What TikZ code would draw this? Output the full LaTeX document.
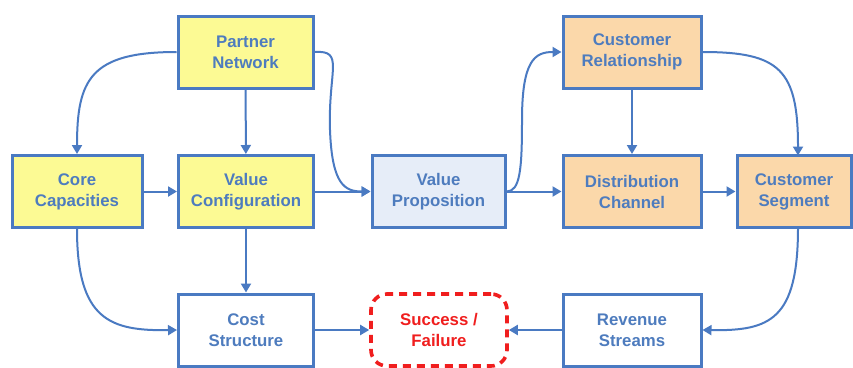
\documentclass[tikz,border=0pt]{standalone}
\usepackage{fontspec}
\setmainfont{Liberation Sans}
\usepackage{tikz}
\usetikzlibrary{arrows.meta,positioning}
\definecolor{edge}{HTML}{4A7AC2}
\definecolor{ink}{HTML}{4E7CBE}
\definecolor{softyellow}{HTML}{FCFA94}
\definecolor{softorange}{HTML}{FBD8AA}
\definecolor{softblue}{HTML}{E6EDF8}
\definecolor{alert}{HTML}{F01E1E}
\tikzset{
  box/.style={
    draw=edge, line width=3pt, fill=white, text=ink,
    font=\fontsize{16.8}{21}\selectfont\bfseries,
    minimum width=135pt, minimum height=72pt, align=center
  },
  partner/.style={box, fill=softyellow},
  offer/.style={box, fill=softblue},
  customer/.style={box, fill=softorange},
  result/.style={box, draw=alert, text=alert, dash pattern=on 8pt off 6pt,
    line width=3.6pt, rounded corners=16pt},
  link/.style={-{Triangle[length=9pt,width=10pt]}, draw=edge, line width=2pt}
}
\begin{document}
\begin{tikzpicture}[x=1pt,y=-1pt]
  \fill[white] (0,0) rectangle (853,367);
  \useasboundingbox (0,0) rectangle (853,367);

  % infrastructure side
  \node[partner] (partner) at (245.5,52) {Partner\\Network};
  \node[partner, minimum width=130pt] (core) at (77,191.5) {Core\\Capacities};
  \node[partner] (config) at (246,191.5) {Value\\Configuration};
  \node[box] (cost) at (246,330) {Cost\\Structure};

  % offer and customer side
  \node[offer, minimum width=133pt] (prop) at (438.5,191.5) {Value\\Proposition};
  \node[customer, minimum width=138pt] (relation) at (632,52) {Customer\\Relationship};
  \node[customer, minimum width=138pt] (channel) at (632,191.5) {Distribution\\Channel};
  \node[customer, minimum width=114pt] (segment) at (794,191.5) {Customer\\Segment};
  \node[box, minimum width=138pt] (revenue) at (632,330) {Revenue\\Streams};

  \node[result, minimum width=136pt] (outcome) at (439,330) {Success /\\Failure};

  % straight links
  \draw[link] (partner) -- (config);
  \draw[link] (core) -- (config);
  \draw[link] (config) -- (prop);
  \draw[link] (config) -- (cost);
  \draw[link] (cost) -- (outcome);
  \draw[link] (prop) -- (channel);
  \draw[link] (relation) -- (channel);
  \draw[link] (channel) -- (segment);
  \draw[link] (revenue) -- (outcome);

  % curved links
  \draw[link] (partner.west) .. controls (90,52) and (77,80) .. (core.north);
  \draw[link] (partner.east) .. controls (345,50) and (328,70) .. (330,130)
    .. controls (332,185) and (345,191.5) .. (prop.west);
  \draw[link] (core.south) .. controls (77,320) and (110,331) .. (cost.west);
  \draw[link] (prop.east) .. controls (520,191.5) and (522,170) .. (522,120)
    .. controls (522,60) and (535,52) .. (relation.west);
  \draw[link] (relation.east) .. controls (780,52) and (798,70) .. (798,155.5);
  \draw[link] (798,227.5) .. controls (798,320) and (770,331) .. (revenue.east);
\end{tikzpicture}
\end{document}
